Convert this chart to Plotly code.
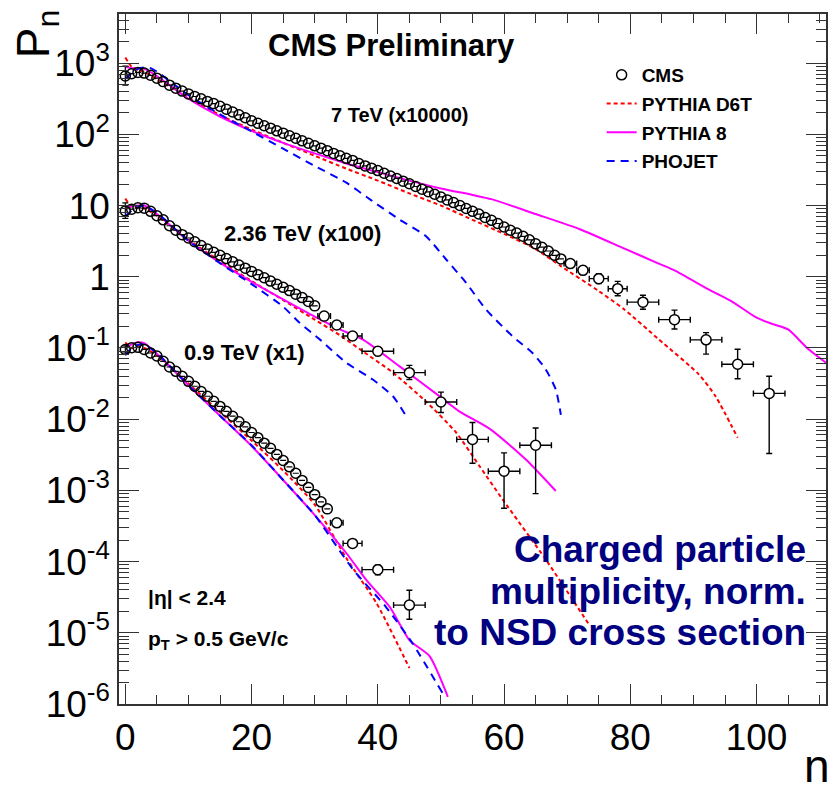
import plotly.graph_objects as go

# ---------------- data (plotted values, already scaled) ----------------
# 7 TeV (x10000) CMS
n7_fine = list(range(0, 70))
p7_fine = [660, 710, 740, 725, 675, 615, 550, 490, 445, 405,
           370, 340, 315, 290, 270, 248, 226, 206, 188, 171,
           155, 143, 132, 122, 112, 104, 95.5, 88, 81, 75,
           69, 64, 59, 54, 50, 46, 43, 39, 36, 33.5,
           31, 28.4, 26, 24, 22, 20.2, 18.5, 17, 15.6, 14.4,
           13.2, 12.0, 11.0, 10.0, 9.1, 8.3, 7.6, 6.8, 6.2, 5.6,
           5.0, 4.5, 4.1, 3.7, 3.3, 2.9, 2.6, 2.3, 2.0, 1.78]
n7_wide = [70.5, 72.5, 75, 78, 82, 87, 92, 97, 102]
p7_wide = [1.53, 1.23, 0.94, 0.68, 0.44, 0.25, 0.13, 0.059, 0.023]
dn7_wide = [1, 1, 1.5, 1.5, 2.5, 2.5, 2.5, 2.5, 2.5]
up7_wide = [0.19, 0.18, 0.16, 0.18, 0.11, 0.09, 0.034, 0.037, 0.017]
lo7_wide = [0.17, 0.16, 0.14, 0.14, 0.09, 0.065, 0.048, 0.022, 0.0197]

# 2.36 TeV (x100) CMS
n2_fine = list(range(0, 31))
p2_fine = [8.4, 8.9, 9.3, 9.2, 8.3, 7.2, 6.3, 5.2, 4.5, 3.9,
           3.5, 3.1, 2.75, 2.45, 2.2, 2.0, 1.8, 1.62, 1.46, 1.32,
           1.19, 1.07, 0.97, 0.87, 0.785, 0.71, 0.64, 0.57, 0.51, 0.45, 0.39]
n2_wide = [31.5, 33.5, 36, 40, 45, 50, 55, 60, 65]
p2_wide = [0.28, 0.21, 0.147, 0.090, 0.045, 0.0174, 0.0052, 0.00186, 0.0043]
dn2_wide = [1, 1, 1.5, 2.5, 2.5, 2.5, 2.5, 2.5, 2.5]
up2_wide = [0.02, 0.02, 0.017, 0.012, 0.012, 0.0066, 0.0038, 0.0015, 0.0032]
lo2_wide = [0.02, 0.02, 0.017, 0.012, 0.009, 0.005, 0.0028, 0.0013, 0.0034]

# 0.9 TeV (x1) CMS
n09_fine = list(range(0, 33))
p09_fine = [0.095, 0.101, 0.102, 0.0955, 0.085, 0.077, 0.065, 0.054, 0.047, 0.040,
            0.034, 0.029, 0.0245, 0.021, 0.0178, 0.0151, 0.0129, 0.011, 0.0092, 0.0078,
            0.0065, 0.0055, 0.0046, 0.0039, 0.0032, 0.00263, 0.00214, 0.00174, 0.00138, 0.0011,
            0.00087, 0.00069, 0.00055]
n09_wide = [33.5, 36, 40, 45]
p09_wide = [3.5e-4, 1.8e-4, 7.7e-5, 2.45e-5]
dn09_wide = [1, 1.5, 2.5, 2.5]
up09_wide = [3e-5, 2e-5, 1.3e-5, 1.5e-5]
lo09_wide = [3e-5, 2e-5, 1.2e-5, 9e-6]

# first-bin errors (n = 0)
up_first = [250, 2.5, 0.012]
lo_first = [170, 1.8, 0.010]

# Models: PYTHIA D6T
d6t7_n = [0, 1, 2, 3, 5, 10, 15, 20, 25, 30, 35, 40, 45, 50, 55, 60, 65, 69, 75, 79, 84.5, 90.8, 93.5, 97]
d6t7_p = [1200, 890, 795, 760, 600, 330, 186, 117, 76, 50, 33, 22.4, 14.8, 10, 6.3, 4.0, 2.45, 1.41, 0.63, 0.35, 0.132, 0.043, 0.021, 0.0055]
d6t2_n = [0, 1, 2, 3, 5, 10, 15, 20, 25, 30, 34, 37.6, 42.4, 47.6, 52.4, 56.1, 59.8, 66.6, 73.5]
d6t2_p = [12.6, 9.5, 9.3, 9.1, 7.2, 3.3, 1.66, 0.87, 0.47, 0.25, 0.151, 0.090, 0.045, 0.0178, 0.0065, 0.0022, 7.4e-4, 1.07e-4, 1.29e-5]
d6t09_n = [0, 1, 2, 3, 5, 10, 15, 20, 25, 30, 35, 39.8, 45]
d6t09_p = [0.120, 0.100, 0.105, 0.100, 0.079, 0.0316, 0.0126, 0.0050, 0.0019, 6.3e-4, 1.12e-4, 2.6e-5, 3.2e-6]

# PYTHIA 8
py87_n = [0, 1, 2, 3, 5, 10, 15, 20, 25, 30, 35, 40, 45, 50, 55, 58, 65, 72, 79, 84.5, 87, 92.4, 96, 100, 102.4, 105, 108, 111]
py87_p = [890, 850, 850, 830, 660, 316, 178, 112, 76, 54, 39, 29.5, 22.4, 17.4, 14.1, 12.3, 7.6, 4.65, 2.5, 1.53, 1.23, 0.665, 0.455, 0.266, 0.219, 0.182, 0.100, 0.062]
py82_n = [0, 1, 2, 3, 5, 10, 15, 20, 25, 30, 34, 37.6, 43.4, 49.8, 52.9, 57.9, 63.5, 68.2]
py82_p = [8.9, 9.8, 10, 10, 7.6, 3.2, 1.58, 0.85, 0.48, 0.275, 0.182, 0.132, 0.0555, 0.0209, 0.0129, 0.00714, 0.00269, 9.8e-4]
py809_n = [0, 1, 2, 3, 5, 10, 15, 20, 25, 30, 35, 38.2, 41.9, 45, 48.2, 51.1]
py809_p = [0.100, 0.112, 0.120, 0.117, 0.083, 0.030, 0.0112, 0.0042, 0.0014, 4.5e-4, 1.32e-4, 5.5e-5, 2.3e-5, 7.9e-6, 4.7e-6, 1.26e-6]

# PHOJET
pho7_n = [0, 1, 2, 3, 4, 5, 10, 15, 20, 25, 30, 35, 38.7, 43.4, 47.6, 50.8, 54, 57.1, 61.3, 64.5, 66.6, 68.2, 69]
pho7_p = [600, 725, 830, 870, 850, 760, 355, 190, 110, 63, 36, 21, 12.3, 6.4, 3.73, 1.76, 0.82, 0.35, 0.147, 0.085, 0.050, 0.026, 0.0115]
pho2_n = [0, 1, 2, 3, 5, 10, 15, 20, 25, 27.6, 30.8, 35, 39.2, 42.4, 44.5]
pho2_p = [7.1, 8.5, 9.5, 10, 7.9, 3.2, 1.55, 0.79, 0.38, 0.226, 0.132, 0.062, 0.036, 0.021, 0.011]
pho09_n = [0, 1, 2, 3, 5, 10, 15, 20, 25, 30, 36.1, 41.3, 45.5, 50.3]
pho09_p = [0.079, 0.100, 0.110, 0.112, 0.085, 0.030, 0.0112, 0.0043, 0.0014, 4.5e-4, 7.7e-5, 2.3e-5, 7.1e-6, 1.4e-6]

x_ticks = [0, 20, 40, 60, 80, 100]
y_ticks = [1e-6, 1e-5, 1e-4, 1e-3, 1e-2, 1e-1, 1, 10, 1e2, 1e3]
y_ticktext = ["10<sup>-6</sup>", "10<sup>-5</sup>", "10<sup>-4</sup>", "10<sup>-3</sup>",
              "10<sup>-2</sup>", "10<sup>-1</sup>", "1", "10", "10<sup>2</sup>", "10<sup>3</sup>"]

# ---------------- figure ----------------
W, H = 833, 794
L, R, T, B = 119, 5, 14, 90
FONT = "Liberation Sans"

fig = go.Figure()

RED, MAG, BLUE = "#ff0000", "#ff00ff", "#0000ff"
RANK = {"PYTHIA D6T": 2, "PYTHIA 8": 3, "PHOJET": 4}

def model(xs, ys, color, dash, name, show):
    fig.add_trace(go.Scatter(
        x=xs, y=ys, mode="lines", name=f"<b>{name}</b>", showlegend=show,
        legendgroup=name, legendrank=RANK[name],
        line=dict(color=color, width=2, dash=dash, shape="spline", smoothing=0.6),
        hoverinfo="skip"))

for xs, ys, show in [(d6t7_n, d6t7_p, True), (d6t2_n, d6t2_p, False), (d6t09_n, d6t09_p, False)]:
    model(xs, ys, RED, "4px,3px", "PYTHIA D6T", show)
for xs, ys, show in [(py87_n, py87_p, True), (py82_n, py82_p, False), (py809_n, py809_p, False)]:
    model(xs, ys, MAG, "solid", "PYTHIA 8", show)
for xs, ys, show in [(pho7_n, pho7_p, True), (pho2_n, pho2_p, False), (pho09_n, pho09_p, False)]:
    model(xs, ys, BLUE, "8px,6px", "PHOJET", show)

fine_sets = [(n7_fine, p7_fine, 0), (n2_fine, p2_fine, 1), (n09_fine, p09_fine, 2)]
for xs, ys, k in fine_sets:
    up = [up_first[k]] + [0] * (len(xs) - 1)
    lo = [lo_first[k]] + [0] * (len(xs) - 1)
    fig.add_trace(go.Scatter(
        x=xs, y=ys, mode="markers", name="<b>CMS</b>", showlegend=(k == 0), legendgroup="CMS", legendrank=1,
        marker=dict(symbol="circle-open", size=10, color="black", line=dict(width=1.5, color="black")),
        error_y=dict(type="data", symmetric=False, array=up, arrayminus=lo,
                     color="black", thickness=1.2, width=3),
        hoverinfo="skip"))

wide_sets = [(n7_wide, p7_wide, dn7_wide, up7_wide, lo7_wide),
             (n2_wide, p2_wide, dn2_wide, up2_wide, lo2_wide),
             (n09_wide, p09_wide, dn09_wide, up09_wide, lo09_wide)]
for xs, ys, dx, up, lo in wide_sets:
    fig.add_trace(go.Scatter(
        x=xs, y=ys, mode="markers", showlegend=False, legendgroup="CMS",
        marker=dict(symbol="circle", size=10, color="white", line=dict(width=1.5, color="black")),
        error_x=dict(type="data", array=dx, color="black", thickness=1.4, width=3),
        error_y=dict(type="data", symmetric=False, array=up, arrayminus=lo,
                     color="black", thickness=1.4, width=3),
        hoverinfo="skip"))

def px(X):
    return (X - L) / (W - L - R)

def py(Y):
    return (H - B - Y) / (H - T - B)

ann = []
def text(X, Y, s, size, xanchor="left", yanchor="middle", color="black", bold=True, angle=0):
    ann.append(dict(x=px(X), y=py(Y), xref="paper", yref="paper", text=(f"<b>{s}</b>" if bold else s),
                    showarrow=False, xanchor=xanchor, yanchor=yanchor, textangle=angle,
                    font=dict(family=FONT, size=size, color=color)))

text(392, 45, "CMS Preliminary", 31, xanchor="center")
text(330, 115, "7 TeV (x10000)", 20)
text(222, 234, "2.36 TeV (x100)", 22)
text(182, 352, "0.9 TeV (x1)", 22)
text(146, 597, "|η| < 2.4", 21)
text(146, 640, "p<sub>T</sub> > 0.5 GeV/c", 21)
NAVY = "#000080"
text(810, 549, "Charged particle", 37, xanchor="right", color=NAVY)
text(810, 591, "multiplicity, norm.", 37, xanchor="right", color=NAVY)
text(810, 632, "to NSD cross section", 37, xanchor="right", color=NAVY)
text(819, 794, "n", 46, xanchor="center", yanchor="bottom", bold=False)
text(36, 34, "P<sub>n</sub>", 46, xanchor="center", bold=False, angle=-90)

axis_common = dict(showline=True, linecolor="#333333", linewidth=1.5, mirror="allticks",
                   ticks="inside", ticklen=20, tickwidth=1.3, tickcolor="#333333",
                   showgrid=False, zeroline=False,
                   tickfont=dict(family=FONT, size=37, color="black"))

fig.update_layout(
    width=W, height=H, margin=dict(l=L, r=R, t=T, b=B),
    paper_bgcolor="white", plot_bgcolor="white",
    font=dict(family=FONT),
    annotations=ann,
    showlegend=True,
    legend=dict(x=px(603), y=py(56), xanchor="left", yanchor="top",
                bgcolor="rgba(0,0,0,0)", font=dict(family=FONT, size=19, color="black"),
                itemwidth=30, tracegroupgap=1, traceorder="grouped"),
    xaxis=dict(range=[-1, 111], tickvals=x_ticks,
               minor=dict(ticks="inside", ticklen=9, tickwidth=1.3, tickcolor="#333333", dtick=5),
               **axis_common),
    yaxis=dict(type="log", range=[-6, 3.69], tickvals=y_ticks, ticktext=y_ticktext,
               minor=dict(ticks="inside", ticklen=10, tickwidth=1.3, tickcolor="#333333", dtick="D1"),
               **axis_common),
)

fig.write_html("out.html")
